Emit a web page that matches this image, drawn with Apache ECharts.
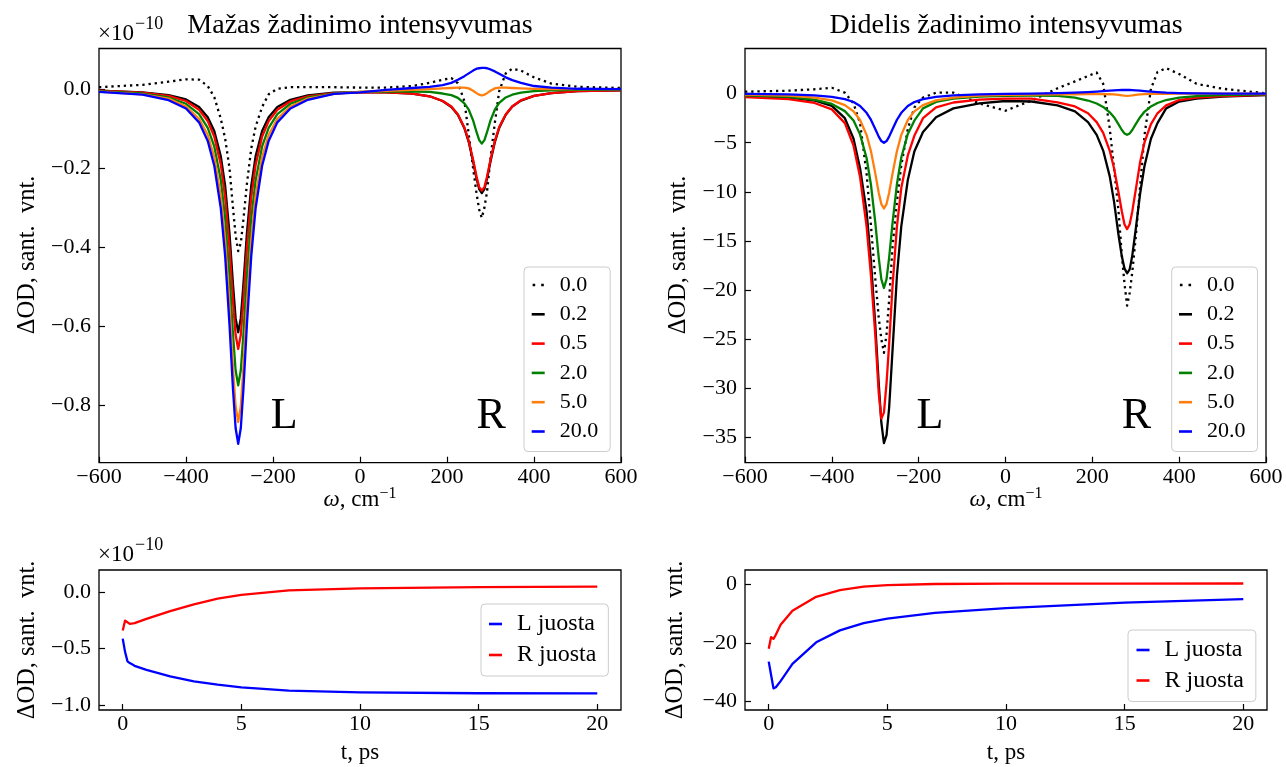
<!DOCTYPE html>
<html><head><meta charset="utf-8">
<script src="https://cdn.jsdelivr.net/npm/echarts@6/dist/echarts.min.js"></script>
<style>html,body{margin:0;padding:0;background:#fff}#c{width:1286px;height:767px}</style>
</head><body><div id="c"></div><script>
// ---------- DATA ----------
const W = [-600,-500,-440,-400,-370,-350,-335,-320,-310,-300,-292,-286,-280,-274,-268,-260,-250,-240,-225,-210,-190,-160,-120,-60,0,60,120,160,190,210,225,240,250,260,268,274,280,286,292,300,310,320,335,350,370,400,440,500,600];
const delays = ['0.0','0.2','0.5','2.0','5.0','20.0'];
// low intensity spectra (units 1e-10)
const lowT00 = [0.005,0.011,0.019,0.025,0.024,0.008,-0.020,-0.075,-0.125,-0.200,-0.300,-0.370,-0.410,-0.390,-0.330,-0.240,-0.150,-0.095,-0.045,-0.013,0.001,0.005,0.005,0.005,0.004,0.004,0.008,0.016,0.024,0.028,0.015,-0.030,-0.115,-0.200,-0.265,-0.305,-0.326,-0.300,-0.260,-0.175,-0.085,-0.005,0.040,0.052,0.047,0.030,0.014,0.006,0.003];
const lowT02 = [-0.004,-0.008,-0.015,-0.026,-0.045,-0.071,-0.106,-0.170,-0.245,-0.366,-0.494,-0.580,-0.616,-0.580,-0.494,-0.366,-0.245,-0.170,-0.106,-0.071,-0.045,-0.027,-0.016,-0.009,-0.008,-0.008,-0.011,-0.018,-0.030,-0.045,-0.065,-0.099,-0.134,-0.183,-0.227,-0.253,-0.263,-0.253,-0.227,-0.183,-0.134,-0.098,-0.065,-0.044,-0.029,-0.017,-0.010,-0.005,-0.003];
const lowT05 = [-0.004,-0.009,-0.017,-0.030,-0.052,-0.081,-0.120,-0.191,-0.274,-0.404,-0.536,-0.622,-0.658,-0.622,-0.536,-0.404,-0.274,-0.192,-0.120,-0.081,-0.052,-0.031,-0.018,-0.010,-0.008,-0.008,-0.011,-0.018,-0.030,-0.044,-0.064,-0.097,-0.131,-0.179,-0.222,-0.248,-0.257,-0.248,-0.222,-0.179,-0.131,-0.096,-0.064,-0.044,-0.028,-0.017,-0.010,-0.005,-0.003];
const lowT2 = [-0.005,-0.011,-0.021,-0.037,-0.063,-0.098,-0.145,-0.230,-0.327,-0.474,-0.620,-0.712,-0.750,-0.712,-0.620,-0.474,-0.327,-0.231,-0.145,-0.098,-0.063,-0.037,-0.021,-0.011,-0.007,-0.006,-0.006,-0.007,-0.011,-0.015,-0.022,-0.036,-0.052,-0.079,-0.109,-0.129,-0.138,-0.129,-0.109,-0.079,-0.052,-0.035,-0.021,-0.014,-0.009,-0.005,-0.003,-0.002,-0.001];
const lowT5 = [-0.006,-0.013,-0.024,-0.044,-0.075,-0.116,-0.172,-0.271,-0.383,-0.547,-0.705,-0.803,-0.843,-0.803,-0.705,-0.547,-0.383,-0.271,-0.172,-0.116,-0.075,-0.044,-0.024,-0.012,-0.007,-0.004,-0.002,0.000,0.002,0.003,0.004,0.004,0.002,-0.004,-0.010,-0.014,-0.016,-0.014,-0.010,-0.004,0.002,0.004,0.004,0.003,0.002,0.001,0.000,0.000,0.000];
const lowT20 = [-0.007,-0.014,-0.028,-0.049,-0.084,-0.131,-0.194,-0.302,-0.423,-0.597,-0.760,-0.858,-0.898,-0.858,-0.760,-0.597,-0.423,-0.302,-0.194,-0.131,-0.084,-0.049,-0.027,-0.012,-0.008,-0.002,0.003,0.006,0.010,0.016,0.024,0.033,0.040,0.047,0.052,0.053,0.054,0.054,0.053,0.050,0.045,0.039,0.030,0.023,0.016,0.008,0.004,0.001,0.000];
// high intensity spectra
const highT00 = [0.2,0.3,0.45,0.6,0.1,-1.0,-3.0,-8.1,-13.4,-18.8,-22.8,-25.0,-26.4,-24.5,-21.0,-15.5,-11.0,-7.3,-3.6,-1.4,-0.4,0.1,0.1,-1.0,-1.74,-0.7,0.55,1.25,1.8,2.15,1.0,-3.5,-7.6,-11.8,-16.5,-19.3,-21.6,-20.3,-18.2,-14.6,-9.5,-4.3,0.5,2.2,2.6,2.0,1.0,0.5,0.03];
const highT02 = [-0.3,-0.4,-0.7,-1.25,-2.5,-4.6,-7.6,-12.0,-17.0,-23.5,-29.5,-33.5,-35.6,-34.8,-32.0,-26.0,-18.5,-13.5,-8.8,-5.9,-3.9,-2.4,-1.5,-1.0,-0.75,-0.8,-1.2,-1.8,-2.9,-4.2,-5.8,-8.4,-11.0,-14.3,-16.6,-17.8,-18.3,-17.9,-16.5,-13.8,-10.2,-7.4,-4.6,-3.0,-1.5,-0.8,-0.5,-0.3,-0.15];
const highT05 = [-0.35,-0.55,-0.95,-1.6,-3.0,-5.3,-8.5,-13.5,-18.5,-24.5,-30.5,-33.1,-32.5,-29.5,-25.5,-19.5,-13.5,-9.6,-6.3,-4.3,-2.5,-1.4,-0.9,-0.6,-0.5,-0.5,-0.9,-1.3,-2.0,-2.9,-4.0,-5.8,-7.6,-10.0,-12.0,-13.3,-13.8,-13.3,-12.0,-9.8,-7.0,-5.0,-3.1,-2.0,-1.2,-0.65,-0.4,-0.25,-0.12];
const highT2 = [-0.17,-0.33,-0.62,-1.05,-1.78,-2.73,-4.15,-6.55,-9.25,-13.1,-16.7,-18.9,-19.8,-18.9,-16.7,-13.1,-9.2,-6.5,-4.1,-2.75,-1.5,-0.85,-0.5,-0.3,-0.22,-0.2,-0.22,-0.4,-0.7,-1.0,-1.35,-1.9,-2.4,-3.1,-3.7,-4.05,-4.2,-4.05,-3.7,-3.1,-2.4,-1.85,-1.3,-0.95,-0.65,-0.4,-0.25,-0.15,-0.08];
const highT5 = [-0.1,-0.21,-0.40,-0.69,-1.17,-1.81,-2.68,-4.2,-5.85,-8.1,-10.1,-11.25,-11.7,-11.25,-10.1,-8.1,-5.85,-4.2,-2.68,-1.81,-1.17,-0.69,-0.40,-0.21,-0.13,-0.09,-0.07,-0.06,-0.05,-0.05,-0.05,-0.06,-0.08,-0.13,-0.18,-0.21,-0.22,-0.21,-0.18,-0.13,-0.08,-0.05,-0.03,-0.02,-0.01,0,0,0,0];
const highT20 = [-0.03,-0.08,-0.17,-0.32,-0.55,-0.85,-1.25,-1.95,-2.65,-3.6,-4.38,-4.83,-5.0,-4.83,-4.38,-3.6,-2.66,-1.95,-1.26,-0.86,-0.56,-0.32,-0.17,-0.08,-0.03,0.0,0.05,0.1,0.15,0.2,0.25,0.3,0.33,0.35,0.37,0.37,0.37,0.37,0.36,0.34,0.3,0.26,0.2,0.15,0.1,0.06,0.03,0.01,0];
// kinetics
const T = [0,0.1,0.2,0.3,0.5,1,2,3,4,5,7,10,15,20];
const bands = ['L juosta','R juosta'];
const kinLowL = [-0.41,-0.53,-0.612,-0.628,-0.652,-0.688,-0.745,-0.79,-0.82,-0.843,-0.872,-0.888,-0.896,-0.898];
const kinLowR = [-0.338,-0.25,-0.265,-0.279,-0.272,-0.235,-0.165,-0.105,-0.055,-0.022,0.018,0.037,0.048,0.052];
const kinHighL = [-26.4,-31.0,-35.6,-35.2,-33.1,-27.2,-19.8,-15.7,-13.2,-11.7,-9.7,-8.1,-6.2,-5.0];
const kinHighR = [-22.0,-18.0,-18.6,-17.2,-13.8,-9.0,-4.2,-1.9,-0.7,-0.2,0.2,0.3,0.35,0.37];
// tick values
const specXTicks = [-600,-400,-200,0,200,400,600];
const lowYTicks = [0,-0.2,-0.4,-0.6,-0.8];
const highYTicks = [0,-5,-10,-15,-20,-25,-30,-35];
const kinXTicks = [0,5,10,15,20];
const kinLowYTicks = [0,-0.5,-1.0];
const kinHighYTicks = [0,-20,-40];
// band annotations [text, x, y]
const lowNotes = [['L',-205,-0.83],['R',268,-0.83]];
const highNotes = [['L',-205,-32.9],['R',268,-32.9]];

// ---------- STYLE / LAYOUT ----------
const FONT = 'Liberation Serif';
const MINUS = '\u2212';
const colors = ['#000000','#000000','#ff0000','#008000','#ff7f0e','#0000ff'];
const kinColors = ['#0000ff','#ff0000'];
const G = [
  {left:99, top:48.5, width:522, height:414.2},
  {left:745, top:48.5, width:521, height:414.2},
  {left:99, top:570, width:522, height:140},
  {left:745, top:570, width:522, height:140}
];
function fmt(d){return v=>{let s=d>0?v.toFixed(d):String(Math.round(v)); if(/^-0(\.0+)?$/.test(s)) s=s.slice(1); return s.replace('-',MINUS);};}
const tickFont = 22;
function axis(i,min,max,ticks,d,m){
  return {gridIndex:i,type:'value',min,max,
    axisLine:{show:false,onZero:false},
    axisTick:{show:true,inside:true,length:6,customValues:ticks,lineStyle:{color:'#000',width:1.2}},
    axisLabel:{customValues:ticks,formatter:fmt(d),fontFamily:FONT,fontSize:tickFont,color:'#000',margin:m},
    splitLine:{show:false}};
}
const lowSets = [lowT00,lowT02,lowT05,lowT2,lowT5,lowT20];
const highSets = [highT00,highT02,highT05,highT2,highT5,highT20];
const series = [];
function lineSeries(name,xs,ys,gi,color,dotted){
  return {name,type:'line',xAxisIndex:gi,yAxisIndex:gi,symbol:'none',smooth:false,
    data:xs.map((x,k)=>[x,ys[k]]),
    lineStyle:{color,width:2.3,type:dotted?[2.3,3.9]:'solid',cap:'butt',join:'round'},itemStyle:{color},z:3};
}
delays.forEach((n,k)=>series.push(lineSeries(n,W,lowSets[k],0,colors[k],k===0)));
delays.forEach((n,k)=>series.push(lineSeries(n,W,highSets[k],1,colors[k],k===0)));
series.push(lineSeries(bands[0],T,kinLowL,2,kinColors[0],false));
series.push(lineSeries(bands[1],T,kinLowR,2,kinColors[1],false));
series.push(lineSeries(bands[0],T,kinHighL,3,kinColors[0],false));
series.push(lineSeries(bands[1],T,kinHighR,3,kinColors[1],false));

const DOTS = 'path://M0,0H2.6V2.6H0Z M8.6,0H11.2V2.6H8.6Z';
function legend(names,left,top,pad,gap,fs){
  return {data:names.map(n=>({name:n,icon:n==='0.0'?DOTS:'rect'})),orient:'vertical',left,top,
    itemWidth:13,itemHeight:2.6,itemGap:gap,padding:pad,
    backgroundColor:'rgba(255,255,255,0.8)',borderColor:'#cccccc',borderWidth:1,borderRadius:4,
    selectedMode:false,
    textStyle:{fontFamily:FONT,fontSize:fs,color:'#000',lineHeight:22,padding:[0,0,0,10]}};
}
function txt(text,x,y,size,opt){
  return {type:'text',x,y,z:10,style:Object.assign({text,fontFamily:FONT,fontSize:size,fill:'#000',align:'center',verticalAlign:'middle'},opt||{})};
}
function vtxt(text,x,y){
  return {type:'text',x,y,rotation:Math.PI/2,z:10,style:{text,fontFamily:FONT,fontSize:24.5,fill:'#000',align:'center',verticalAlign:'middle'}};
}
function omega(x,y){
  return {type:'text',x,y,z:10,style:{text:'{i|ω}{n|, cm}{s|'+MINUS+'1}',align:'center',verticalAlign:'middle',
    rich:{i:{fontFamily:FONT,fontSize:23,fontStyle:'italic'},n:{fontFamily:FONT,fontSize:23},s:{fontFamily:FONT,fontSize:16,verticalAlign:'top',padding:[0,0,12,0]}}}};
}
const ylab = 'ΔOD, sant.  vnt.';
const graphics = [
  txt('Mažas žadinimo intensyvumas',360,26,28),
  txt('Didelis žadinimo intensyvumas',1006,26,28),
  txt('×10',98,34,23,{align:'left'}),
  txt(MINUS+'10',135,24,18,{align:'left'}),
  txt('×10',98,555,23,{align:'left'}),
  txt(MINUS+'10',135,545,18,{align:'left'}),
  vtxt(ylab,28,255), vtxt(ylab,679,255), vtxt(ylab,28,640), vtxt(ylab,676,640),
  omega(360,500), omega(1006,500),
  txt('t, ps',360,753,23),
  txt('t, ps',1006,753,23)
];

const option = {
  animation:false,
  backgroundColor:'#ffffff',
  grid:G.map(g=>Object.assign({show:true,borderColor:'#000',borderWidth:1.3,backgroundColor:'transparent',containLabel:false},g)),
  xAxis:[axis(0,-600,600,specXTicks,0,4),axis(1,-600,600,specXTicks,0,4),axis(2,-1,21,kinXTicks,0,3),axis(3,-1,21,kinXTicks,0,3)],
  yAxis:[axis(0,-0.946,0.103,lowYTicks,1,8),axis(1,-37.6,4.6,highYTicks,0,8),axis(2,-1.045,0.2,kinLowYTicks,1,8),axis(3,-43,5,kinHighYTicks,0,8)],
  legend:[
    legend(delays,524,267,[7,12,9,7.7],7.3,22),
    legend(delays,1171.7,267,[7,12,9,7.3],7.3,22),
    legend(bands,481,604,[8,12,9,8],7,24),
    legend(bands,1128,630,[8,12,9,8.5],6.5,24)
  ],
  series,
  graphic:graphics
};
const chart = echarts.init(document.getElementById('c'),null,{renderer:'canvas'});
chart.setOption(option);
const notes = [];
lowNotes.forEach(n=>{const p=chart.convertToPixel({gridIndex:0},[n[1],n[2]]); notes.push(txt(n[0],p[0],p[1],44,{align:'left'}));});
highNotes.forEach(n=>{const p=chart.convertToPixel({gridIndex:1},[n[1],n[2]]); notes.push(txt(n[0],p[0],p[1],44,{align:'left'}));});
chart.setOption({graphic:graphics.concat(notes)});
</script></body></html>
